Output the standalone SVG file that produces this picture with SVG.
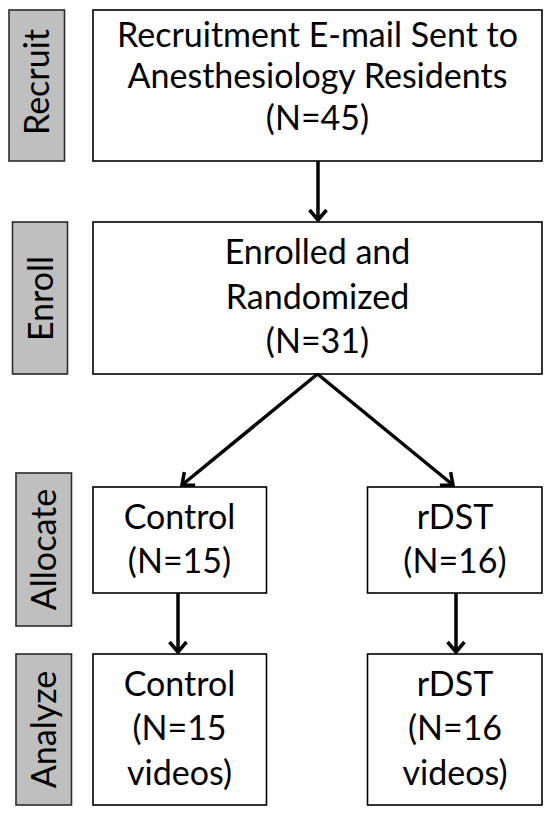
<svg xmlns="http://www.w3.org/2000/svg" width="553" height="815" viewBox="0 0 553 815">
<style>
.box{fill:#fff;stroke:#000;stroke-width:1.6}
.side{fill:#bfbfbf;stroke:#2b2b2b;stroke-width:1.6}
.t{font-family:Lato,"Open Sans","Liberation Sans",sans-serif;font-size:34px;fill:#000;text-anchor:middle}
.conn{stroke:#000;stroke-width:3.5;fill:none}
</style>
<defs>
<marker id="ah" markerUnits="userSpaceOnUse" markerWidth="24" markerHeight="24" viewBox="-14 -12 16 24" refX="0" refY="0" orient="auto">
<path d="M-10,-8.5 L0,0 L-10,8.5" fill="none" stroke="#000" stroke-width="3.5" stroke-linejoin="miter"/>
</marker>
</defs>
<rect width="553" height="815" fill="#fff"/>
<g id="side-recruit"><rect class="side" x="9" y="10" width="55.5" height="151"/><text class="t" transform="translate(49,82) rotate(-90)">Recruit</text></g>
<g id="side-enroll"><rect class="side" x="12.5" y="222" width="55" height="152"/><text class="t" transform="translate(52.5,298.5) rotate(-90)">Enroll</text></g>
<g id="side-allocate"><rect class="side" x="16" y="473" width="55.5" height="153"/><text class="t" transform="translate(56,549.5) rotate(-90)">Allocate</text></g>
<g id="side-analyze"><rect class="side" x="16" y="654" width="55.5" height="151"/><text class="t" transform="translate(56,729.5) rotate(-90)">Analyze</text></g>
<g id="recruit"><rect class="box" x="93" y="10" width="449" height="151"/>
<text class="t" x="317.5" y="47">Recruitment E-mail Sent to</text>
<text class="t" x="317.5" y="88">Anesthesiology Residents</text>
<text class="t" x="317.5" y="130">(N=45)</text></g>
<g id="enroll"><rect class="box" x="93" y="222" width="449" height="152"/>
<text class="t" x="317.5" y="264">Enrolled and</text>
<text class="t" x="317.5" y="309">Randomized</text>
<text class="t" x="317.5" y="353">(N=31)</text></g>
<g id="alloc-control"><rect class="box" x="93" y="487" width="173.5" height="106"/>
<text class="t" x="179.5" y="529">Control</text>
<text class="t" x="179.5" y="573">(N=15)</text></g>
<g id="alloc-rdst"><rect class="box" x="367.5" y="487" width="174.5" height="106"/>
<text class="t" x="455" y="529">rDST</text>
<text class="t" x="455" y="573">(N=16)</text></g>
<g id="analyze-control"><rect class="box" x="93" y="654" width="173.5" height="151"/>
<text class="t" x="179.5" y="696">Control</text>
<text class="t" x="179.5" y="740">(N=15</text>
<text class="t" x="179.5" y="785">videos)</text></g>
<g id="analyze-rdst"><rect class="box" x="367.5" y="654" width="174.5" height="151"/>
<text class="t" x="455" y="696">rDST</text>
<text class="t" x="455" y="740">(N=16</text>
<text class="t" x="455" y="785">videos)</text></g>
<g id="connectors">
<line class="conn" x1="318" y1="161" x2="318" y2="220" marker-end="url(#ah)"/>
<line class="conn" x1="317.5" y1="374" x2="182" y2="485" marker-end="url(#ah)"/>
<line class="conn" x1="317.5" y1="374" x2="453" y2="485" marker-end="url(#ah)"/>
<line class="conn" x1="178" y1="593" x2="178" y2="652" marker-end="url(#ah)"/>
<line class="conn" x1="456" y1="593" x2="456" y2="652" marker-end="url(#ah)"/>
</g>
</svg>
